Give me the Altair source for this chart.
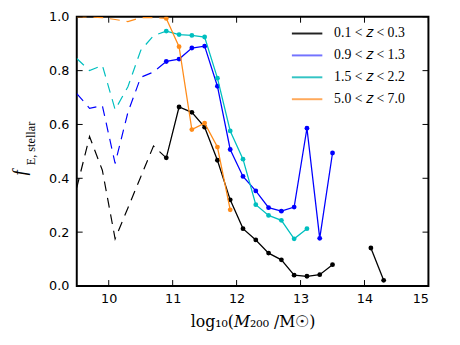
import altair as alt
import pandas as pd

# ---- data ----
series = ["0.1 < 𝑧 < 0.3", "0.9 < 𝑧 < 1.3", "1.5 < 𝑧 < 2.2", "5.0 < 𝑧 < 7.0"]
line_colors = ["#000000", "#0000ff", "#00bfbf", "#ff8c1a"]
legend_colors = ["#222222", "#7373ff", "#33c4c4", "#ffa95a"]

# dashed (low-mass) part
x_dash = [9.5, 9.7, 9.9, 10.1, 10.3, 10.5, 10.7, 10.9]
black_dash = [0.365, 0.555, 0.43, 0.175, 0.29, 0.405, 0.52, 0.476]
blue_dash = [0.715, 0.66, 0.67, 0.455, 0.645, 0.775, 0.795, 0.834]
cyan_dash = [0.845, 0.80, 0.82, 0.655, 0.74, 0.875, 0.93, 0.947]
orange_dash = [1.0, 1.0, 0.997, 0.99, 0.982, 0.997, 0.997, 0.994]

# solid part with markers
black_x = [10.9, 11.1, 11.3, 11.5, 11.7, 11.9, 12.1, 12.3, 12.5, 12.7, 12.9, 13.1, 13.3, 13.5]
black_y = [0.476, 0.665, 0.645, 0.59, 0.467, 0.32, 0.213, 0.171, 0.122, 0.097, 0.04, 0.036, 0.042, 0.079]
black2_x = [14.1, 14.3]
black2_y = [0.141, 0.021]
blue_x = [10.9, 11.1, 11.3, 11.5, 11.7, 11.9, 12.1, 12.3, 12.5, 12.7, 12.9, 13.1, 13.3, 13.5]
blue_y = [0.834, 0.843, 0.884, 0.891, 0.742, 0.507, 0.407, 0.353, 0.291, 0.278, 0.293, 0.586, 0.177, 0.494]
cyan_x = [10.9, 11.1, 11.3, 11.5, 11.7, 11.9, 12.1, 12.3, 12.5, 12.7, 12.9, 13.1]
cyan_y = [0.947, 0.934, 0.931, 0.925, 0.772, 0.576, 0.471, 0.302, 0.262, 0.244, 0.175, 0.213]
orange_x = [10.9, 11.1, 11.3, 11.5, 11.7, 11.9]
orange_y = [0.994, 0.889, 0.581, 0.605, 0.516, 0.283]

x_ticks = [10, 11, 12, 13, 14, 15]
y_ticks = [0.0, 0.2, 0.4, 0.6, 0.8, 1.0]

W, H = 358, 274
TICK = 6
TOP = 14  # page y of the plot's top edge

xs = alt.Scale(domain=[9.5, 15], nice=False, zero=False)
ys = alt.Scale(domain=[0, 1], nice=False, zero=False)
xaxis = alt.Axis(values=x_ticks, format="d", ticks=False, domain=False, grid=False,
                 labelFont="DejaVu Sans", labelFontSize=13, labelColor="black",
                 labelPadding=7, title="log₁₀(𝑀₂₀₀ /M☉)", titleFont="DejaVu Serif",
                 titleFontSize=16, titleFontWeight="normal", titleColor="black",
                 titlePadding=8)
yaxis = alt.Axis(values=y_ticks, format=".1f", ticks=False, domain=False, grid=False,
                 labelFont="DejaVu Sans", labelFontSize=13, labelColor="black",
                 labelPadding=8, title=None)

X = alt.X("x:Q", scale=xs, axis=xaxis)
Y = alt.Y("y:Q", scale=ys, axis=yaxis)

layers = []

dash_sets = [black_dash, blue_dash, cyan_dash, orange_dash]
solid_sets = [[(black_x, black_y), (black2_x, black2_y)],
              [(blue_x, blue_y)], [(cyan_x, cyan_y)], [(orange_x, orange_y)]]

for i in range(4):
    col = line_colors[i]
    ddf = pd.DataFrame({"x": x_dash, "y": dash_sets[i]})
    layers.append(alt.Chart(ddf).mark_line(color=col, strokeWidth=1.2, strokeDash=[10, 7],
                                           clip=True).encode(x=X, y=Y))
    for (sx, sy) in solid_sets[i]:
        sdf = pd.DataFrame({"x": sx, "y": sy})
        layers.append(alt.Chart(sdf).mark_line(color=col, strokeWidth=1.3, clip=True)
                      .encode(x=X, y=Y))
        layers.append(alt.Chart(sdf).mark_circle(color=col, size=24, opacity=1, clip=True)
                      .encode(x=X, y=Y))

# inward ticks on all four sides
xt = pd.DataFrame({"x": x_ticks})
yt = pd.DataFrame({"y": y_ticks})
layers.append(alt.Chart(xt).mark_rule(color="black", strokeWidth=1)
              .encode(x=X, y=alt.value(H), y2=alt.value(H - TICK)))
layers.append(alt.Chart(xt).mark_rule(color="black", strokeWidth=1)
              .encode(x=X, y=alt.value(0), y2=alt.value(TICK)))
layers.append(alt.Chart(yt).mark_rule(color="black", strokeWidth=1)
              .encode(y=Y, x=alt.value(0), x2=alt.value(TICK)))
layers.append(alt.Chart(yt).mark_rule(color="black", strokeWidth=1)
              .encode(y=Y, x=alt.value(W), x2=alt.value(W - TICK)))

# legend (drawn by hand, top right inside the frame)
for i, lab in enumerate(series):
    ldf = pd.DataFrame({"label": [lab]})
    yy = 31 - TOP + 22.3 * i
    layers.append(alt.Chart(ldf).mark_rule(color=legend_colors[i], strokeWidth=2)
                  .encode(x=alt.value(219), x2=alt.value(250), y=alt.value(yy)))
    layers.append(alt.Chart(ldf).mark_text(align="left", baseline="middle",
                                           font="Liberation Serif", fontSize=14, color="black")
                  .encode(x=alt.value(262), y=alt.value(yy), text="label:N"))

# y title: f_{E, stellar}
ytitle = pd.DataFrame({"main": ["f"], "sub": ["E, stellar"]})
layers.append(alt.Chart(ytitle).mark_text(angle=270, align="center", baseline="middle",
                                          font="Liberation Serif", fontStyle="italic",
                                          fontSize=19, color="black")
              .encode(x=alt.value(-58), y=alt.value(173 - TOP), text="main:N"))
layers.append(alt.Chart(ytitle).mark_text(angle=270, align="center", baseline="middle",
                                          font="Liberation Serif", fontSize=12.5, color="black")
              .encode(x=alt.value(-47), y=alt.value(143 - TOP), text="sub:N"))

chart = alt.layer(*layers).properties(
    width=W, height=H,
    autosize=alt.AutoSizeParams(type="none"),
    padding={"left": 70, "top": TOP - 8, "right": 24, "bottom": 345 - 8 - (TOP - 8) - H - 8},
).configure_view(stroke="black", strokeWidth=2)

chart.save("out.html", embed_options={"renderer": "svg", "actions": False})
